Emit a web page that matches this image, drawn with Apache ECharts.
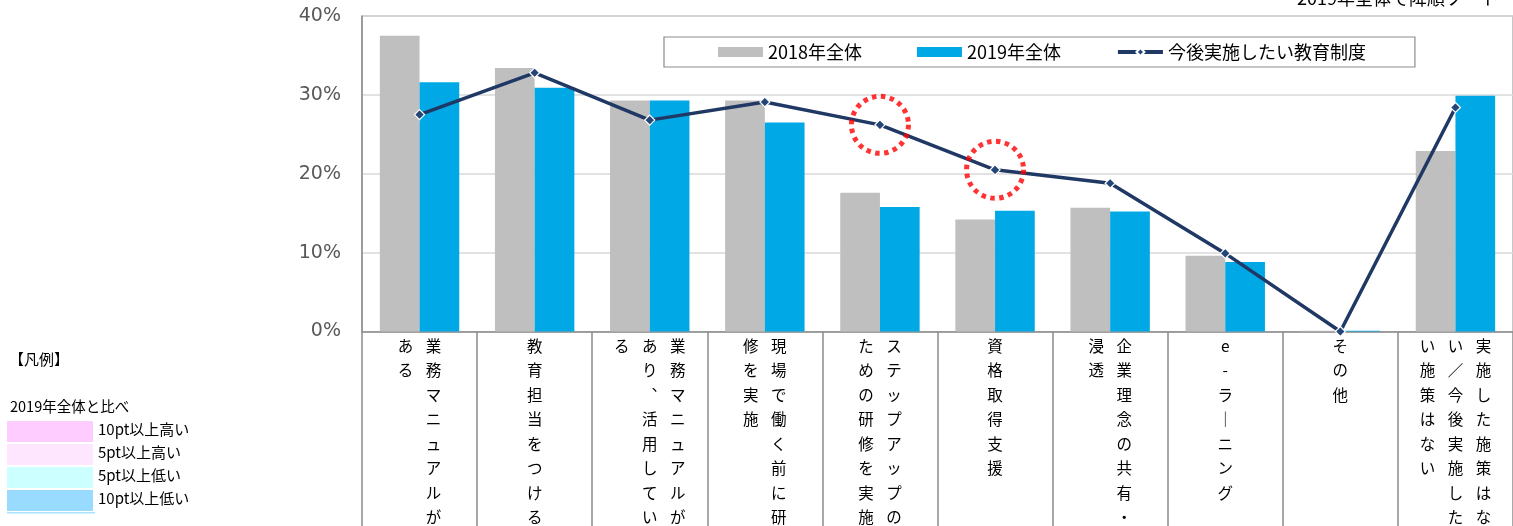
<!DOCTYPE html>
<html>
<head>
<meta charset="utf-8">
<script src="https://cdn.jsdelivr.net/npm/echarts@6/dist/echarts.min.js"></script>
<style>
  html, body { margin: 0; padding: 0; background: #ffffff; }
  #chart { width: 1513px; height: 526px; }
</style>
</head>
<body>
<div id="chart"></div>
<script>
// Education measures, sorted by the 2019 share (the "none" answer kept last)
const categories = [
  '業務マニュアルがある',
  '教育担当をつける',
  '業務マニュアルがあり、活用している',
  '現場で働く前に研修を実施',
  'ステップアップのための研修を実施',
  '資格取得支援',
  '企業理念の共有・浸透',
  'e-ラーニング',
  'その他',
  '実施した施策はない／今後実施したい施策はない'
];
const seriesNames = ['2018年全体', '2019年全体', '今後実施したい教育制度'];
const values2018 = [37.5, 33.4, 29.3, 29.3, 17.6, 14.2, 15.7, 9.6, 0.1, 22.9];
const values2019 = [31.6, 30.9, 29.3, 26.5, 15.8, 15.3, 15.2, 8.8, 0.1, 29.9];
const futureWish = [27.5, 32.8, 26.8, 29.1, 26.2, 20.5, 18.8, 9.9, 0.0, 28.4];
const yTicks = [0, 10, 20, 30, 40];
// Points on the wish line that get a dotted red ring
const highlightedIdx = [4, 5];

const sortNote = '2019年全体で降順ソート';
const keyTitle = '【凡例】';
const keySubtitle = '2019年全体と比べ';
const keyLabels = ['10pt以上高い', '5pt以上高い', '5pt以上低い', '10pt以上低い'];

const JP = '"Noto Sans CJK JP", "Noto Sans", sans-serif';
const keyColors = ['#FFCCFF', '#FFE6FF', '#CCFFFF', '#99DBFF'];

// Category names are written top-to-bottom in columns of 8, columns running right-to-left
const COL_LEN = 8;
const VERTICAL_FORMS = { 'ー': '｜', '、': '︑' };
function verticalLabel(name) {
  const chars = Array.from(name).map(ch => VERTICAL_FORMS[ch] || ch);
  const cols = [];
  for (let i = 0; i < chars.length; i += COL_LEN) cols.push(chars.slice(i, i + COL_LEN));
  const rows = Math.min(COL_LEN, chars.length);
  const lines = [];
  for (let r = 0; r < rows; r++) {
    let line = '';
    for (let c = cols.length - 1; c >= 0; c--) {
      line += '{c|' + (cols[c][r] || '\u3000') + '}';
    }
    lines.push(line);
  }
  return lines.join('\n');
}

// Left-hand colour key
const keyGraphics = [
  { type: 'text', left: 9, top: 352, style: { text: keyTitle, font: '15px ' + JP, fill: '#000' } },
  { type: 'text', left: 10, top: 399, style: { text: keySubtitle, font: '14.5px ' + JP, fill: '#000' } }
];
keyLabels.forEach((label, i) => {
  const top = 421 + i * 23;
  keyGraphics.push({ type: 'rect', left: 7, top: top, shape: { width: 86, height: 21 }, style: { fill: keyColors[i] } });
  keyGraphics.push({ type: 'text', left: 98, top: top + 1, style: { text: label, font: '15px ' + JP, fill: '#000' } });
});
keyGraphics.push({ type: 'rect', left: 7, top: 512, shape: { width: 88, height: 1.5 }, style: { fill: '#A8E2FF' } });
keyGraphics.push({ type: 'text', left: 1297, top: -11, style: { text: sortNote, font: '18px ' + JP, fill: '#000' } });

const chart = echarts.init(document.getElementById('chart'), null, { renderer: 'canvas' });
chart.setOption({
  animation: false,
  backgroundColor: '#ffffff',
  textStyle: { fontFamily: JP },
  grid: {
    left: 362, top: 16, width: 1156, height: 315.5,
    show: true, borderColor: '#8C8C8C', borderWidth: 1, backgroundColor: 'transparent'
  },
  legend: {
    data: [
      { name: seriesNames[0], icon: 'rect' },
      { name: seriesNames[1], icon: 'rect' },
      { name: seriesNames[2], lineStyle: { width: 4, color: '#1F3864' } }
    ],
    left: 664, top: 37,
    padding: [6, 49, 6, 54],
    itemWidth: 45, itemHeight: 10, itemGap: 55,
    borderColor: '#8C8C8C', borderWidth: 1.2,
    textStyle: { fontSize: 18, color: '#000', fontFamily: JP }
  },
  xAxis: {
    type: 'category',
    data: categories,
    boundaryGap: true,
    axisLine: { lineStyle: { color: '#8C8C8C', width: 1.5 } },
    axisTick: { show: true, interval: 0, length: 200, lineStyle: { color: '#8C8C8C', width: 1.5 } },
    axisLabel: {
      interval: 0, margin: 2, color: '#000',
      formatter: verticalLabel,
      rich: { c: { width: 28, align: 'center', fontSize: 15.5, lineHeight: 24.5, fontFamily: JP, color: '#000' } }
    }
  },
  yAxis: {
    type: 'value',
    min: yTicks[0], max: yTicks[yTicks.length - 1], interval: yTicks[1] - yTicks[0],
    axisLine: { show: true, lineStyle: { color: '#8C8C8C', width: 1.5 } },
    axisTick: { show: false },
    axisLabel: { formatter: '{value}%', color: '#595959', fontSize: 19, margin: 21, fontFamily: '"DejaVu Sans", sans-serif' },
    splitLine: { lineStyle: { color: '#D9D9D9', width: 1.5 } }
  },
  series: [
    {
      name: seriesNames[0], type: 'bar', data: values2018,
      barGap: '0%', barCategoryGap: '31%',
      itemStyle: { color: '#BFBFBF' }
    },
    {
      name: seriesNames[1], type: 'bar', data: values2019,
      itemStyle: { color: '#00A9E6' }
    },
    {
      name: seriesNames[2], type: 'line', data: futureWish,
      symbol: 'diamond', symbolSize: 10,
      lineStyle: { color: '#1F3864', width: 3.5 },
      itemStyle: { color: '#244577', borderColor: '#ffffff', borderWidth: 1.2 },
      z: 4
    },
    {
      name: 'highlight', type: 'scatter', silent: true, z: 5,
      data: highlightedIdx.map(i => [i, futureWish[i]]),
      symbol: 'circle', symbolSize: 57,
      itemStyle: { color: 'rgba(0,0,0,0)', borderColor: '#FF0000', borderWidth: 5, borderType: [4.5, 4.5] }
    }
  ],
  graphic: keyGraphics
});
</script>
</body>
</html>
